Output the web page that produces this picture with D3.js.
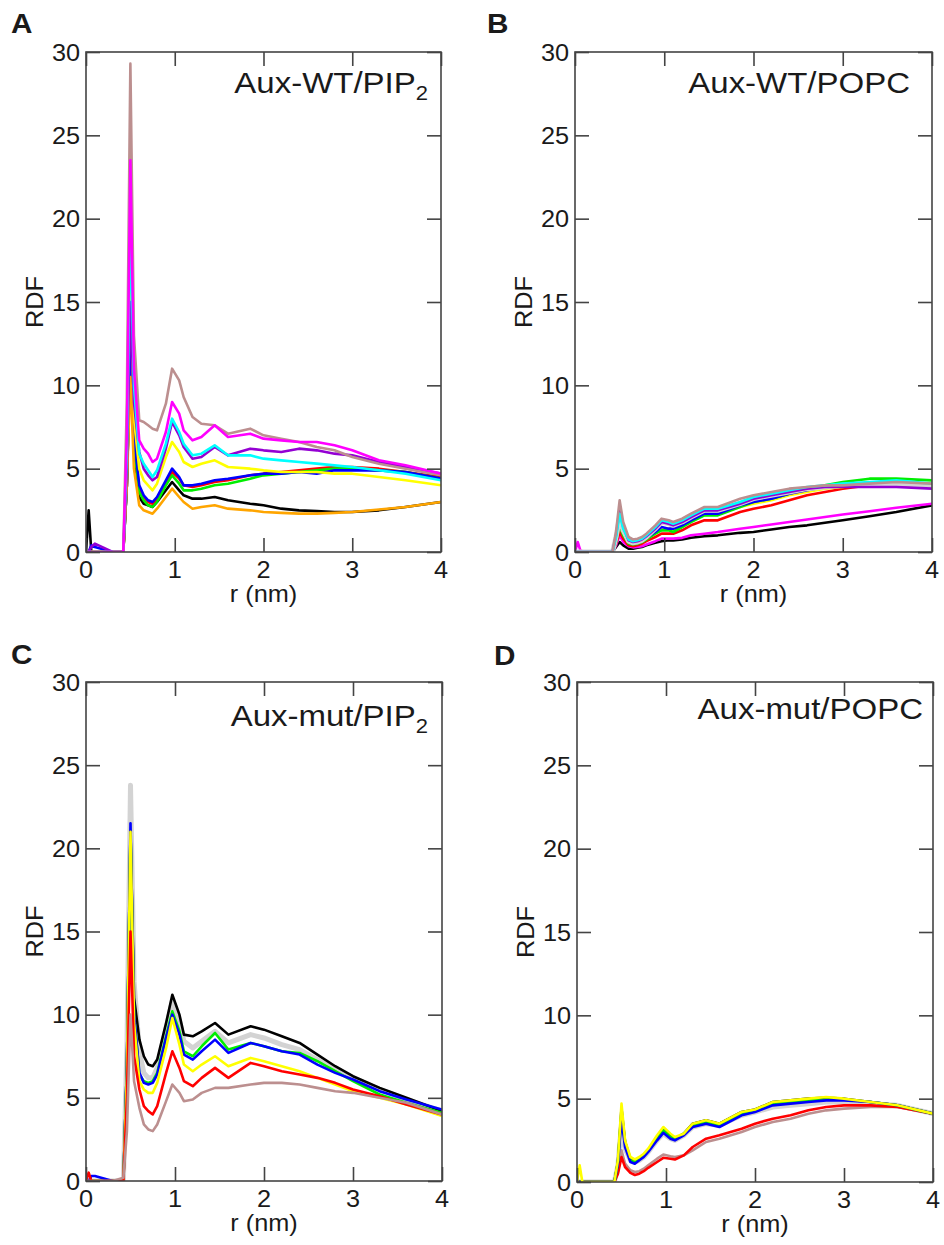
<!DOCTYPE html>
<html><head><meta charset="utf-8">
<script src="https://cdn.jsdelivr.net/npm/d3@7"></script>
<style>
body{margin:0;background:#fff}
text{font-family:"Liberation Sans",Arial,Helvetica,sans-serif;fill:#1a1a1a}
</style>
</head><body>
<svg id="chart" width="944" height="1245"></svg>
<script>
// ---------- data ----------
const rGrid = [0,0.03,0.06,0.1,0.3,0.42,0.46,0.5,0.54,0.6,0.65,0.7,0.75,0.8,0.9,0.97,1.05,1.1,1.2,1.3,1.45,1.6,1.85,2.0,2.2,2.4,2.6,2.8,3.0,3.3,3.6,4.0];
const xTicks = [0,1,2,3,4];
const yTicks = [0,5,10,15,20,25,30];
const seriesColors = {black:"#000000",red:"#ff0000",green:"#00ee00",blue:"#0000ff",yellow:"#ffff00",brown:"#bc8f8f",grey:"#d3d3d3",violet:"#9400d3",cyan:"#00ffff",magenta:"#ff00ff",orange:"#ffa500"};
const panelTitles = ["Aux-WT/PIP","Aux-WT/POPC","Aux-mut/PIP","Aux-mut/POPC"];
const panelSubs = ["2","","2",""];
const panelLetters = ["A","B","C","D"];

// Panel A: Aux-WT/PIP2
const aBlack   = [0,2.5,0,0,0,0,4,12,6,3.3,2.9,2.8,2.7,3.0,3.7,4.2,3.7,3.4,3.2,3.2,3.3,3.1,2.9,2.8,2.6,2.5,2.45,2.4,2.4,2.5,2.7,3.0];
const aRed     = [0,0,0,0,0,0,4,12.5,6.5,3.8,3.3,3.0,2.9,3.2,4.2,4.8,4.4,4.0,3.9,4.0,4.2,4.3,4.6,4.7,4.8,4.9,5.0,5.1,5.1,5.0,4.8,4.5];
const aGreen   = [0,0,0,0,0,0,4,12,6.5,3.6,3.1,2.8,2.7,3.0,4.0,4.6,4.1,3.7,3.7,3.8,4.0,4.1,4.4,4.6,4.7,4.8,4.9,5.0,5.0,4.9,4.8,4.4];
const aBlue    = [0,0,0.4,0.3,0,0,4,13,7,4.0,3.4,3.1,3.0,3.3,4.3,5.0,4.5,4.0,4.0,4.1,4.3,4.4,4.6,4.7,4.7,4.8,4.7,4.9,4.9,4.9,4.8,4.4];
const aYellow  = [0,0,0,0,0,0,5,17,8,5.0,4.3,4.0,3.7,4.1,5.7,6.6,6.0,5.4,5.1,5.3,5.5,5.1,5.0,4.9,4.8,4.8,4.8,4.7,4.7,4.5,4.3,4.0];
const aBrown   = [0,0,0,0,0,0,9,29.3,13,7.9,7.8,7.6,7.4,7.3,8.9,11.0,10.3,9.3,8.1,7.7,7.6,7.1,7.4,7.0,6.8,6.6,6.3,6.1,5.7,5.3,5.0,4.6];
const aViolet  = [0,0,0.3,0.5,0,0,5,15,9,6.0,5.0,4.6,4.3,4.5,6.2,7.8,7.0,6.3,5.6,5.7,6.3,5.8,6.2,6.1,6.0,6.2,6.1,5.9,5.8,5.4,5.1,4.7];
const aCyan    = [0,0,0,0,0,0,6,20,10,5.9,5.3,4.9,4.5,4.9,6.5,8.0,7.2,6.5,5.8,5.9,6.4,5.8,5.8,5.6,5.5,5.4,5.3,5.2,5.1,4.9,4.7,4.3];
const aMagenta = [0,0,0,0,0,0,7,23.5,11,6.7,6.2,5.9,5.4,5.6,7.2,9.0,8.3,7.3,6.7,6.9,7.6,6.9,7.1,6.8,6.7,6.6,6.6,6.4,6.1,5.5,5.2,4.7];
const aOrange  = [0,0,0,0,0,0,4,10.5,5,2.8,2.5,2.4,2.3,2.6,3.3,3.8,3.3,3.0,2.6,2.7,2.8,2.6,2.5,2.4,2.35,2.3,2.3,2.35,2.4,2.55,2.7,3.0];

// Panel B: Aux-WT/POPC
const bBlack   = [0,0,0,0,0,0,0.3,0.6,0.4,0.2,0.2,0.25,0.3,0.4,0.55,0.65,0.7,0.7,0.75,0.85,0.95,1.0,1.15,1.2,1.35,1.5,1.6,1.75,1.9,2.15,2.4,2.8];
const bRed     = [0,0,0,0,0,0,0.5,1.2,0.8,0.4,0.35,0.4,0.5,0.65,0.9,1.1,1.1,1.1,1.3,1.6,1.9,1.9,2.4,2.6,2.8,3.1,3.4,3.6,3.8,4.0,4.0,4.0];
const bGreen   = [0,0,0,0,0,0,0.6,1.6,1.0,0.5,0.45,0.5,0.6,0.75,1.1,1.3,1.3,1.2,1.5,1.8,2.2,2.2,2.7,3.0,3.2,3.5,3.8,4.0,4.2,4.4,4.4,4.3];
const bBlue    = [0,0,0,0,0,0,0.8,2.0,1.2,0.6,0.5,0.55,0.65,0.85,1.2,1.5,1.4,1.4,1.6,1.9,2.3,2.3,2.8,3.0,3.2,3.5,3.7,3.9,4.0,4.1,4.1,4.0];
const bYellow  = [0,0,0,0,0,0,0.7,1.7,1.1,0.55,0.5,0.55,0.65,0.8,1.1,1.4,1.4,1.3,1.5,1.9,2.2,2.3,2.7,2.9,3.1,3.4,3.6,3.8,3.9,4.1,4.1,4.0];
const bBrown   = [0,0,0,0,0,0,1.2,3.1,1.8,0.9,0.75,0.8,0.9,1.1,1.6,2.0,1.9,1.8,2.0,2.3,2.7,2.7,3.2,3.4,3.6,3.8,3.9,4.0,4.0,4.1,4.2,4.1];
const bGrey    = [0,0,0,0,0,0,0.9,2.1,1.3,0.65,0.55,0.6,0.7,0.9,1.4,1.8,1.7,1.6,1.8,2.1,2.5,2.5,2.9,3.2,3.4,3.6,3.8,3.9,4.0,4.1,4.1,4.0];
const bViolet  = [0,0,0,0,0,0,1.0,2.5,1.5,0.7,0.6,0.65,0.75,0.95,1.4,1.8,1.7,1.6,1.8,2.1,2.5,2.5,2.9,3.2,3.4,3.6,3.8,3.9,3.9,3.9,3.9,3.8];
const bCyan    = [0,0,0,0,0,0,0.9,2.3,1.4,0.75,0.65,0.7,0.8,1.0,1.5,1.9,1.8,1.7,1.9,2.2,2.6,2.6,3.0,3.3,3.5,3.7,3.9,4.0,4.1,4.2,4.3,4.1];
const bMagenta = [0,0.6,0.1,0,0,0,0.4,1.0,0.6,0.35,0.28,0.3,0.35,0.45,0.65,0.8,0.8,0.8,0.85,1.0,1.1,1.2,1.4,1.5,1.65,1.8,1.95,2.1,2.25,2.45,2.65,2.9];

// Panel C: Aux-mut/PIP2
const cGrey    = [0,0,0,0,0,0,8,23.8,12,7.8,6.5,6.2,6.2,6.8,9.2,10.8,9.6,8.4,8.0,8.4,9.0,8.3,8.8,8.6,8.2,7.9,7.3,6.7,6.2,5.5,4.9,4.2];
const cBlack   = [0,0,0,0,0,0,7,21,11,8.5,7.5,7.0,6.9,7.3,9.5,11.2,10.0,8.8,8.7,9.0,9.5,8.8,9.3,9.1,8.7,8.3,7.6,6.9,6.3,5.6,5.0,4.2];
const cRed     = [0,0.5,0,0,0,0,5,15,7.5,5.5,4.5,4.2,4.0,4.5,6.5,7.8,6.8,6.0,5.7,6.2,6.8,6.2,7.1,6.9,6.6,6.4,6.2,5.9,5.5,5.1,4.6,4.0];
const cGreen   = [0,0,0,0,0,0,7,21,10,6.4,6.0,5.9,6.0,6.5,8.7,10.2,9.0,7.8,7.5,8.1,8.9,7.9,8.3,8.1,7.8,7.7,7.2,6.6,6.0,5.2,4.7,4.1];
const cBlue    = [0,0,0.3,0.3,0,0,7,21.5,10,6.5,5.9,5.8,5.9,6.4,8.6,10.0,8.8,7.6,7.3,7.8,8.5,7.7,8.3,8.1,7.8,7.6,7.0,6.5,6.1,5.4,4.9,4.3];
const cYellow  = [0,0,0,0,0,0,6.5,21,9.5,6.0,5.5,5.3,5.3,5.9,8.0,9.8,8.2,7.0,6.6,7.0,7.5,6.9,7.4,7.2,6.9,6.6,6.2,5.8,5.4,5.0,4.6,3.9];
const cBrown   = [0,0,0,0,0,0.2,3,10,6,4.4,3.4,3.1,3.0,3.4,4.8,5.8,5.3,4.8,4.9,5.3,5.6,5.6,5.8,5.9,5.9,5.8,5.6,5.4,5.3,5.0,4.7,4.0];

// Panel D: Aux-mut/POPC
const dGrey    = [0,0,0,0,0,0,1.0,3.5,2.0,1.3,1.2,1.3,1.5,1.8,2.5,2.9,2.6,2.5,2.8,3.3,3.5,3.4,4.0,4.2,4.5,4.6,4.7,4.8,4.8,4.7,4.6,4.1];
const dBlack   = [0,0,0,0,0,0,1.2,4.4,2.4,1.4,1.25,1.4,1.6,1.9,2.7,3.2,2.8,2.6,2.9,3.5,3.7,3.5,4.2,4.35,4.8,4.9,5.0,5.05,5.0,4.8,4.6,4.1];
const dGreen   = [0,0,0,0,0,0,1.2,4.2,2.3,1.3,1.2,1.35,1.55,1.9,2.6,3.1,2.7,2.6,2.9,3.4,3.6,3.4,4.1,4.3,4.7,4.8,4.9,4.95,4.95,4.8,4.6,4.1];
const dBlue    = [0,0,0,0,0,0,1.1,3.8,2.1,1.2,1.1,1.3,1.5,1.8,2.5,2.95,2.6,2.5,2.8,3.3,3.5,3.3,4.0,4.2,4.6,4.7,4.8,4.9,4.9,4.8,4.6,4.1];
const dYellow  = [0,1.0,0,0,0,0,1.3,4.7,2.5,1.5,1.35,1.5,1.7,2.0,2.8,3.3,2.9,2.7,2.9,3.5,3.7,3.5,4.2,4.35,4.8,4.9,5.0,5.1,5.0,4.8,4.6,4.1];
const dRed     = [0,0,0,0,0,0,0.5,1.5,0.9,0.55,0.42,0.5,0.65,0.85,1.2,1.45,1.4,1.35,1.6,2.1,2.6,2.8,3.2,3.5,3.8,4.0,4.3,4.5,4.6,4.6,4.5,4.1];
const dBrown   = [0,0,0,0,0,0,0.6,1.9,1.1,0.7,0.6,0.65,0.8,1.0,1.4,1.65,1.55,1.5,1.6,1.9,2.4,2.6,3.0,3.3,3.6,3.8,4.1,4.3,4.4,4.5,4.5,4.1];

// ---------- layout ----------
const panels = [
  {L:86,  R:441, T:52,  B:552,  titleRight:428, titleBase:93,  letterX:11,  letterY:33,
   series:[["black",aBlack],["red",aRed],["green",aGreen],["blue",aBlue],["yellow",aYellow],["orange",aOrange],["violet",aViolet],["cyan",aCyan],["brown",aBrown],["magenta",aMagenta]]},
  {L:575, R:932, T:52,  B:552,  titleRight:910, titleBase:93,  letterX:487, letterY:33,
   series:[["black",bBlack],["magenta",bMagenta],["red",bRed],["yellow",bYellow],["green",bGreen],["blue",bBlue],["grey",bGrey],["violet",bViolet],["cyan",bCyan],["brown",bBrown]]},
  {L:86,  R:442, T:682, B:1181, titleRight:428, titleBase:726, letterX:11,  letterY:664,
   series:[["grey",cGrey],["black",cBlack],["green",cGreen],["blue",cBlue],["yellow",cYellow],["red",cRed],["brown",cBrown]]},
  {L:577, R:933, T:682, B:1182, titleRight:923, titleBase:719, letterX:494, letterY:665,
   series:[["grey",dGrey],["brown",dBrown],["red",dRed],["black",dBlack],["green",dGreen],["blue",dBlue],["yellow",dYellow]]}
];

const svg = d3.select("#chart");
const SX = 1.1;

function label(g, x, y, str, anchor, size, weight){
  return g.append("text")
    .attr("transform", `translate(${x},${y}) scale(${SX},1)`)
    .attr("text-anchor", anchor)
    .style("font-size", size + "px")
    .style("font-weight", weight || "normal")
    .text(str);
}

panels.forEach((p, i) => {
  const g = svg.append("g");
  const x = d3.scaleLinear().domain([0,4]).range([p.L, p.R]);
  const y = d3.scaleLinear().domain([0,30]).range([p.B, p.T]);

  // curves
  const line = d3.line().x(d => x(d[0])).y(d => y(d[1]));
  const clipId = "clip" + i;
  svg.append("clipPath").attr("id", clipId).append("rect")
    .attr("x", p.L).attr("y", p.T).attr("width", p.R - p.L).attr("height", p.B - p.T);
  const cg = g.append("g").attr("clip-path", `url(#${clipId})`);
  p.series.forEach(([name, vals]) => {
    cg.append("path")
      .attr("d", line(d3.zip(rGrid, vals)))
      .attr("fill", "none")
      .attr("stroke", seriesColors[name])
      .attr("stroke-width", name === "grey" ? 5 : 2.6)
      .attr("stroke-linejoin", "round")
      .attr("stroke-linecap", "round");
  });

  // axes (ticks inward on all four sides)
  const axStyle = sel => {
    sel.select(".domain").remove();
    sel.selectAll(".tick line").attr("stroke", "#444").attr("stroke-width", 1.6);
    sel.selectAll(".tick text").remove();
  };
  g.append("g").attr("transform", `translate(0,${p.B})`)
    .call(d3.axisBottom(x).tickValues(xTicks).tickSize(-14)).call(axStyle);
  g.append("g").attr("transform", `translate(0,${p.T})`)
    .call(d3.axisTop(x).tickValues(xTicks).tickSize(-14)).call(axStyle);
  g.append("g").attr("transform", `translate(${p.L},0)`)
    .call(d3.axisLeft(y).tickValues(yTicks).tickSize(-14)).call(axStyle);
  g.append("g").attr("transform", `translate(${p.R},0)`)
    .call(d3.axisRight(y).tickValues(yTicks).tickSize(-14)).call(axStyle);

  // frame
  g.append("rect").attr("x", p.L).attr("y", p.T)
    .attr("width", p.R - p.L).attr("height", p.B - p.T)
    .attr("fill", "none").attr("stroke", "#444").attr("stroke-width", 1.6);

  // tick labels
  yTicks.forEach(v => label(g, p.L - 6, y(v) + 8.5, String(v), "end", 23));
  xTicks.forEach(v => label(g, x(v), p.B + 26, String(v), "middle", 23));

  // axis titles
  label(g, (p.L + p.R) / 2, p.B + 50, "r (nm)", "middle", 23);
  g.append("text")
    .attr("transform", `translate(${p.L - 43},${y(15)}) rotate(-90) scale(${SX},1)`)
    .attr("text-anchor", "middle")
    .style("font-size", "23px")
    .text("RDF");

  // panel title
  const t = g.append("text")
    .attr("transform", `translate(${p.titleRight},${p.titleBase}) scale(${SX},1)`)
    .attr("text-anchor", "end")
    .style("font-size", "30px");
  t.append("tspan").text(panelTitles[i]);
  if (panelSubs[i]) t.append("tspan").attr("dy", 7).style("font-size", "20px").text(panelSubs[i]);

  // panel letter
  label(g, p.letterX, p.letterY, panelLetters[i], "start", 27, "bold");
});
</script>
</body></html>
